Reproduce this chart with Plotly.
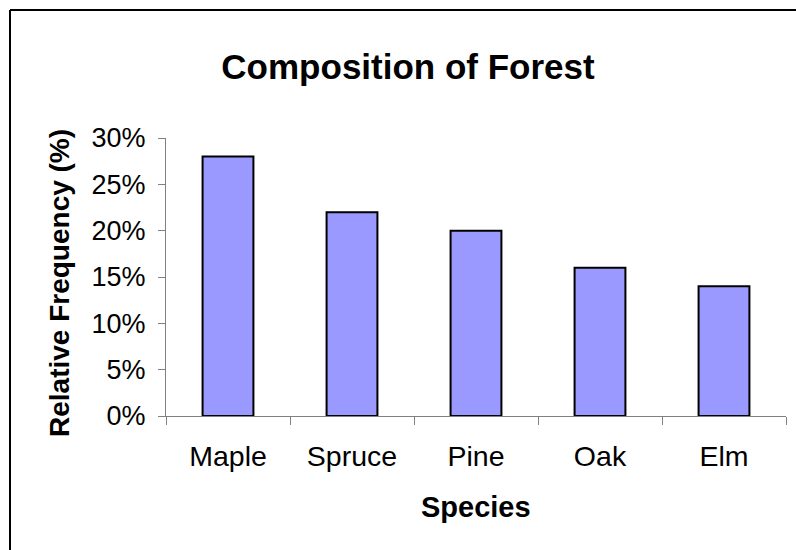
import plotly.graph_objects as go

species = ["Maple", "Spruce", "Pine", "Oak", "Elm"]
rel_freq = [0.28, 0.22, 0.20, 0.16, 0.14]
y_ticks = [0, 0.05, 0.10, 0.15, 0.20, 0.25, 0.30]
y_tick_labels = ["0%", "5%", "10%", "15%", "20%", "25%", "30%"]

W, H = 796, 550
L, R, T, B = 166, 10, 138, 134
pw, ph = W - L - R, H - T - B

def px_x(x):
    return (x - L) / pw

def px_y(y):
    return (H - B - y) / ph

fig = go.Figure(go.Bar(
    x=species, y=rel_freq,
    marker=dict(color="#9999FF", line=dict(color="black", width=2)),
    width=0.41,
))

font = "Liberation Sans, Arial, sans-serif"

fig.update_layout(
    width=W, height=H,
    margin=dict(l=L, r=R, t=T, b=B, pad=0),
    paper_bgcolor="white", plot_bgcolor="white",
    showlegend=False,
    font=dict(family=font, color="black"),
    title=dict(text="<b>Composition of Forest</b>", font=dict(size=35, family=font, color="black"),
               xref="container", yref="container", x=408 / W, y=1 - 67 / H,
               xanchor="center", yanchor="middle"),
    xaxis=dict(showline=True, linecolor="#808080", linewidth=1,
               ticks="outside", tickson="boundaries", ticklen=8, tickcolor="#808080",
               tickfont=dict(size=28.5, family=font, color="black"),
               ticklabelstandoff=15, showgrid=False),
    yaxis=dict(range=[0, 0.30], showline=True, linecolor="#808080", linewidth=1,
               ticks="outside", ticklen=7, tickcolor="#808080",
               tickvals=y_ticks, ticktext=y_tick_labels,
               tickfont=dict(size=27, family=font, color="black"),
               ticklabelstandoff=7, showgrid=False, zeroline=False),
    annotations=[
        dict(text="<b>Relative Frequency (%)</b>", textangle=-90,
             xref="paper", yref="paper", x=px_x(59), y=px_y(283),
             xanchor="center", yanchor="middle", showarrow=False,
             font=dict(size=28, family=font, color="black")),
        dict(text="<b>Species</b>",
             xref="paper", yref="paper", x=px_x(476), y=px_y(507),
             xanchor="center", yanchor="middle", showarrow=False,
             font=dict(size=29, family=font, color="black")),
    ],
    shapes=[
        dict(type="line", xref="paper", yref="paper",
             x0=px_x(10), y0=px_y(10), x1=px_x(810), y1=px_y(10),
             line=dict(color="black", width=2)),
        dict(type="line", xref="paper", yref="paper",
             x0=px_x(10), y0=px_y(10), x1=px_x(10), y1=px_y(560),
             line=dict(color="black", width=2)),
    ],
)

fig.write_html("out.html", config={"displayModeBar": False},
               post_script="document.body.style.margin='0px';document.body.style.overflow='hidden';")
